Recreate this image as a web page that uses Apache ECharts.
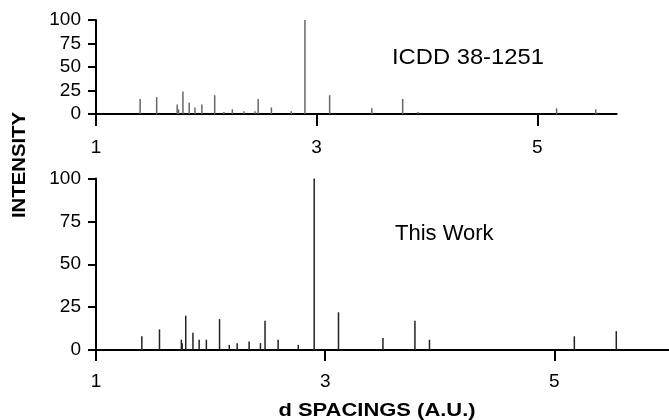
<!DOCTYPE html>
<html>
<head>
<meta charset="utf-8">
<script src="https://cdn.jsdelivr.net/npm/echarts@6/dist/echarts.min.js"></script>
<style>
  html, body { margin: 0; padding: 0; background: #fff; }
  #chart { width: 669px; height: 420px; }
</style>
</head>
<body>
<div id="chart"></div>
<script>
// ICDD 38-1251 reference pattern (top panel)
const icddD = [1.40, 1.55, 1.736, 1.748, 1.788, 1.845, 1.897, 1.96, 2.076, 2.16, 2.236, 2.34, 2.44, 2.47, 2.59, 2.77, 2.894, 3.118, 3.50, 3.78, 3.92, 5.175, 5.53];
const icddI = [16, 18, 10, 5, 24, 12, 7, 10, 20, 2, 5, 3, 3, 16, 7, 3, 100, 20, 6, 16, 2, 6, 5];

// measured pattern (bottom panel)
const workD = [1.40, 1.554, 1.745, 1.752, 1.783, 1.846, 1.90, 1.963, 2.078, 2.163, 2.232, 2.336, 2.435, 2.475, 2.589, 2.765, 2.904, 3.116, 3.504, 3.783, 3.91, 5.174, 5.54];
const workI = [8, 12, 6, 4, 20, 10, 6, 6, 18, 3, 4, 5, 4, 17, 6, 3, 100, 22, 7, 17, 6, 8, 11];

const xTicks = [1, 3, 5];

const font = 'Liberation Sans, Arial, Helvetica, sans-serif';
const axisLine = { lineStyle: { color: '#000', width: 2 } };

function xAxisFor(gridIndex, max, tickLen, margin) {
  return {
    type: 'value', gridIndex: gridIndex, min: 1, max: max,
    axisLine: axisLine,
    axisTick: { show: true, inside: false, length: tickLen, lineStyle: { color: '#000', width: 2 }, customValues: xTicks },
    axisLabel: { customValues: xTicks, color: '#000', fontSize: 19, fontFamily: font, margin: margin },
    splitLine: { show: false }
  };
}

function yAxisFor(gridIndex) {
  return {
    type: 'value', gridIndex: gridIndex, min: 0, max: 100, interval: 25,
    axisLine: { show: true, lineStyle: { color: '#000', width: 2 } },
    axisTick: { show: true, length: 8, lineStyle: { color: '#000', width: 2 } },
    axisLabel: { color: '#000', fontSize: 19, fontFamily: font, margin: 15 },
    splitLine: { show: false }
  };
}

const chart = echarts.init(document.getElementById('chart'));
chart.setOption({
  animation: false,
  backgroundColor: '#fff',
  grid: [
    { left: 96, top: 20, width: 520.7, height: 94 },
    { left: 96, top: 178.5, width: 576.5, height: 171.5 }
  ],
  xAxis: [
    xAxisFor(0, 5.72, 12, 24),
    xAxisFor(1, 6, 11, 22)
  ],
  yAxis: [yAxisFor(0), yAxisFor(1)],
  series: [
    {
      type: 'bar', xAxisIndex: 0, yAxisIndex: 0, barWidth: 1.5,
      itemStyle: { color: '#666' },
      data: icddD.map((d, i) => [d, icddI[i]])
    },
    {
      type: 'bar', xAxisIndex: 1, yAxisIndex: 1, barWidth: 1.5,
      itemStyle: { color: '#222' },
      data: workD.map((d, i) => [d, workI[i]])
    }
  ],
  graphic: [
    {
      type: 'text', x: 392, y: 58, scaleX: 1.08,
      style: { text: 'ICDD 38-1251', font: '22px ' + font, fill: '#000', verticalAlign: 'middle' }
    },
    {
      type: 'text', x: 395, y: 234,
      style: { text: 'This Work', font: '22px ' + font, fill: '#000', verticalAlign: 'middle' }
    },
    {
      type: 'text', x: 20, y: 165, rotation: Math.PI / 2, scaleX: 1.13,
      style: { text: 'INTENSITY', font: 'bold 18px ' + font, fill: '#000', align: 'center', verticalAlign: 'middle' }
    },
    {
      type: 'text', x: 377, y: 411, scaleX: 1.22,
      style: { text: 'd SPACINGS (A.U.)', font: 'bold 18px ' + font, fill: '#000', align: 'center', verticalAlign: 'middle' }
    }
  ]
});
</script>
</body>
</html>
